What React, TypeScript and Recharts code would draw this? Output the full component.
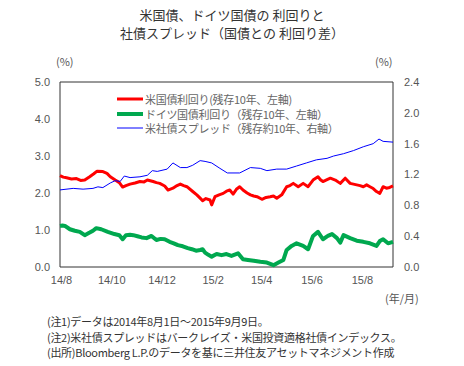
import React from "react";
import { LineChart, Line, XAxis, YAxis, ReferenceArea } from "recharts";

// days counted from 2014-08-01
const usDays = [0, 4, 8, 14, 20, 25, 30, 36, 41, 45, 52, 57, 61, 67, 72, 76, 80, 85, 91, 97, 102, 106, 113, 117, 121, 127, 131, 137, 142, 146, 150, 154, 161, 166, 170, 173, 177, 182, 184, 188, 193, 198, 202, 206, 210, 214, 218, 222, 227, 231, 235, 239, 245, 250, 255, 259, 263, 269, 275, 279, 283, 289, 295, 301, 307, 313, 316, 319, 324, 328, 334, 340, 346, 352, 356, 360, 364, 368, 372, 376, 380, 384, 388, 392, 396, 400, 404];
const usYield = [2.47, 2.43, 2.41, 2.38, 2.39, 2.34, 2.35, 2.44, 2.52, 2.59, 2.58, 2.53, 2.44, 2.35, 2.28, 2.16, 2.2, 2.24, 2.27, 2.31, 2.3, 2.35, 2.31, 2.28, 2.26, 2.19, 2.08, 2.13, 2.2, 2.24, 2.2, 2.17, 2.04, 1.95, 1.86, 1.79, 1.85, 1.81, 1.68, 1.9, 1.95, 1.99, 2.05, 2.08, 1.97, 2.1, 2.17, 2.08, 2.0, 1.95, 1.92, 1.9, 1.83, 1.88, 1.9, 1.92, 1.86, 1.95, 2.17, 2.2, 2.26, 2.17, 2.26, 2.17, 2.35, 2.44, 2.36, 2.31, 2.36, 2.4, 2.35, 2.26, 2.4, 2.26, 2.24, 2.22, 2.2, 2.17, 2.22, 2.17, 2.12, 2.04, 1.99, 2.17, 2.13, 2.15, 2.19];

const deDays = [0, 3, 6, 12, 18, 24, 30, 36, 40, 44, 50, 58, 66, 72, 76, 80, 85, 89, 94, 99, 105, 111, 117, 122, 127, 133, 138, 143, 149, 155, 160, 165, 170, 173, 176, 180, 184, 190, 196, 202, 208, 216, 222, 228, 235, 243, 251, 259, 265, 271, 275, 281, 287, 295, 301, 307, 313, 319, 325, 330, 336, 340, 344, 352, 360, 368, 376, 384, 388, 392, 398, 404];
const deYield = [1.11, 1.12, 1.11, 1.02, 0.98, 0.95, 0.86, 0.93, 0.98, 1.05, 1.02, 0.95, 0.89, 0.86, 0.75, 0.86, 0.87, 0.86, 0.83, 0.8, 0.78, 0.84, 0.73, 0.76, 0.75, 0.68, 0.64, 0.59, 0.56, 0.51, 0.48, 0.44, 0.46, 0.48, 0.39, 0.33, 0.28, 0.35, 0.32, 0.35, 0.3, 0.37, 0.21, 0.19, 0.17, 0.14, 0.12, 0.05, 0.12, 0.19, 0.46, 0.57, 0.64, 0.57, 0.48, 0.84, 0.95, 0.75, 0.84, 0.89, 0.78, 0.66, 0.86, 0.78, 0.71, 0.68, 0.64, 0.57, 0.7, 0.75, 0.64, 0.68];

const spDays = [0, 16, 28, 40, 46, 52, 61, 67, 73, 78, 85, 97, 106, 112, 118, 130, 137, 146, 154, 161, 170, 176, 184, 194, 203, 218, 231, 243, 251, 263, 275, 287, 299, 311, 324, 332, 344, 356, 368, 380, 387, 392, 404];
const spSpread = [1.0, 1.02, 1.01, 1.02, 1.04, 1.03, 1.09, 1.12, 1.11, 1.18, 1.16, 1.17, 1.19, 1.25, 1.24, 1.27, 1.35, 1.29, 1.29, 1.32, 1.38, 1.37, 1.35, 1.28, 1.22, 1.22, 1.29, 1.28, 1.25, 1.27, 1.27, 1.31, 1.35, 1.39, 1.41, 1.44, 1.47, 1.51, 1.56, 1.6, 1.66, 1.63, 1.62];

const xTicks = [0, 61, 122, 184, 243, 304, 365];
const xTickLabels = ["14/8", "14/10", "14/12", "15/2", "15/4", "15/6", "15/8"];
const leftTicks = [0, 1, 2, 3, 4, 5];
const rightTicks = [0, 0.4, 0.8, 1.2, 1.6, 2.0, 2.4];

const seriesNames = [
  "米国債利回り(残存10年、左軸)",
  "ドイツ国債利回り（残存10年、左軸）",
  "米社債スプレッド（残存約10年、右軸）",
];
const titleLines = ["米国債、ドイツ国債の 利回りと", "社債スプレッド（国債との 利回り差）"];
const notes = [
  "(注1)データは2014年8月1日～2015年9月9日。",
  "(注2)米社債スプレッドはバークレイズ・米国投資適格社債インデックス。",
  "(出所)Bloomberg L.P.のデータを基に三井住友アセットマネジメント作成",
];

const usData = usDays.map((d, i) => ({ day: d, v: usYield[i] }));
const deData = deDays.map((d, i) => ({ day: d, v: deYield[i] }));
const spData = spDays.map((d, i) => ({ day: d, v: spSpread[i] }));

const FONT = '"Noto Sans CJK JP", "Noto Sans", sans-serif';
const TICK_FONT = '"Liberation Sans", Arial, sans-serif';

const legendItems = [
  { name: seriesNames[0], color: "#ff0000", w: 3 },
  { name: seriesNames[1], color: "#00a84f", w: 4 },
  { name: seriesNames[2], color: "#0000ff", w: 1 },
];

const LegendBox = () => (
  <div style={{ position: "absolute", left: 115, top: 92, fontFamily: FONT, fontSize: 11, color: "#666" }}>
    {legendItems.map((it) => (
      <div key={it.name} style={{ display: "flex", alignItems: "center", height: 14.5, whiteSpace: "nowrap" }}>
        <svg width={30} height={10} style={{ flex: "none" }}>
          <line x1={2} x2={28} y1={5} y2={5} stroke={it.color} strokeWidth={it.w} />
        </svg>
        <span style={{ letterSpacing: -0.3 }}>{it.name}</span>
      </div>
    ))}
  </div>
);

export default function App() {
  return (
    <div style={{ position: "absolute", left: 0, top: 0, width: 464, height: 366, background: "#fff", fontFamily: FONT }}>
      <div style={{ position: "absolute", left: 0, top: 6, width: 464, textAlign: "center", fontSize: 13, lineHeight: "18px", color: "#333" }}>
        {titleLines.map((t) => (
          <div key={t}>{t}</div>
        ))}
      </div>
      <div style={{ position: "absolute", left: 56, top: 53, fontSize: 11, color: "#555" }}>(%)</div>
      <div style={{ position: "absolute", left: 375, top: 53, fontSize: 11, color: "#555" }}>(%)</div>
      <div style={{ position: "absolute", left: 385, top: 290, fontSize: 11, color: "#555" }}>(年/月)</div>
      <div style={{ position: "absolute", left: 47, top: 314, fontSize: 11, lineHeight: "15.5px", color: "#333", letterSpacing: -0.3, whiteSpace: "nowrap" }}>
        {notes.map((n) => (
          <div key={n}>{n}</div>
        ))}
      </div>
      <div style={{ position: "absolute", left: 0, top: 0 }}>
        <LineChart width={464} height={366} margin={{ top: 82, right: 0, bottom: 69, left: 0 }}>
          <XAxis
            xAxisId="x"
            type="number"
            dataKey="day"
            domain={[0, 404]}
            ticks={xTicks}
            tickFormatter={(v: number) => xTickLabels[xTicks.indexOf(v)]}
            axisLine={false}
            tickLine={false}
            tickMargin={3}
            height={30}
            allowDuplicatedCategory={false}
            tick={{ fill: "#555", fontSize: 11, fontFamily: TICK_FONT, dx: 1.5 }}
          />
          <YAxis
            yAxisId="left"
            orientation="left"
            domain={[0, 5]}
            ticks={leftTicks}
            tickFormatter={(v: number) => v.toFixed(1)}
            axisLine={false}
            tickLine={false}
            tickMargin={4}
            width={60}
            tick={{ fill: "#555", fontSize: 11, fontFamily: TICK_FONT }}
          />
          <YAxis
            yAxisId="right"
            orientation="right"
            domain={[0, 2.4]}
            ticks={rightTicks}
            tickFormatter={(v: number) => v.toFixed(1)}
            axisLine={false}
            tickLine={false}
            tickMargin={5}
            width={71}
            tick={{ fill: "#555", fontSize: 11, fontFamily: TICK_FONT, textAnchor: "start" }}
          />
          <ReferenceArea xAxisId="x" yAxisId="left" x1={0} x2={404} y1={0} y2={5} fill="none" stroke="#333" strokeWidth={1} />
          <Line xAxisId="x" yAxisId="left" data={usData} dataKey="v" name={seriesNames[0]} stroke="#ff0000" strokeWidth={3} dot={false} isAnimationActive={false} strokeLinejoin="round" />
          <Line xAxisId="x" yAxisId="left" data={deData} dataKey="v" name={seriesNames[1]} stroke="#00a84f" strokeWidth={4} dot={false} isAnimationActive={false} strokeLinejoin="round" />
          <Line xAxisId="x" yAxisId="right" data={spData} dataKey="v" name={seriesNames[2]} stroke="#0000ff" strokeWidth={1} dot={false} isAnimationActive={false} strokeLinejoin="round" />
        </LineChart>
      </div>
      <LegendBox />
    </div>
  );
}
